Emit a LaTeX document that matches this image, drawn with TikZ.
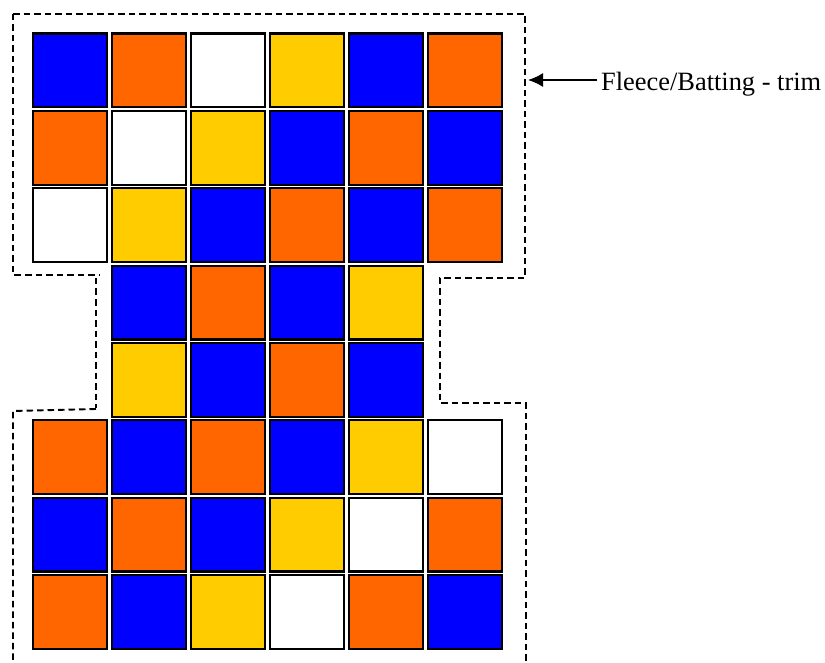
\documentclass[tikz,border=0pt]{standalone}
\usepackage{fontspec}
\setmainfont{Liberation Serif}
\usetikzlibrary{arrows.meta}

\definecolor{tileb}{HTML}{0000FF}
\definecolor{tileo}{HTML}{FF6600}
\definecolor{tiley}{HTML}{FFCC00}
\definecolor{tilew}{HTML}{FFFFFF}
\def\nocell{n}

\begin{document}
\begin{tikzpicture}[x=1pt, y=-1pt,
        tile/.style={draw=black, line width=2.2pt, minimum size=73.8pt, inner sep=0pt},
        trim/.style={line width=1.9pt, dash pattern=on 6.5pt off 4pt},
        arr/.style={-{Latex[length=15pt, width=14pt]}, line width=1.6pt},
        lbl/.style={font=\fontsize{26.4}{30}\selectfont, inner xsep=4pt, inner ysep=0pt}]
        \useasboundingbox (0,0) rectangle (825,663);
        % quilt blocks, row by row (n = no block)
        \foreach \cols [count=\r] in {{b,o,w,y,b,o},{o,w,y,b,o,b},{w,y,b,o,b,o},
            {n,b,o,b,y,n},{n,y,b,o,b,n},
            {o,b,o,b,y,w},{b,o,b,y,w,o},{o,b,y,w,o,b}}
          \foreach \c [count=\k] in \cols {
            \ifx\c\nocell\else
              \node[tile, fill=tile\c] (t-\r-\k) at ({70+(\k-1)*79}, {70.5+(\r-1)*77.35}) {};
            \fi
          }
        % trim line
        \draw[trim] (13,14) -- (525,14) -- (525,278) -- (440,278) -- (440,403) -- (526,403) -- (526,663);
        \draw[trim] (13,14) -- (13,275) -- (100,275);
        \draw[trim] (96,278) -- (96,408);
        \draw[trim] (96,409) -- (13,411) -- (13,663);
        % label
        \coordinate (tip) at (528,80);
        \node[lbl, anchor=base west] (fleece) at (597,91) {Fleece/Batting - trim};
        \draw[arr] (fleece.west |- tip) -- (tip);
      \end{tikzpicture}
\end{document}
